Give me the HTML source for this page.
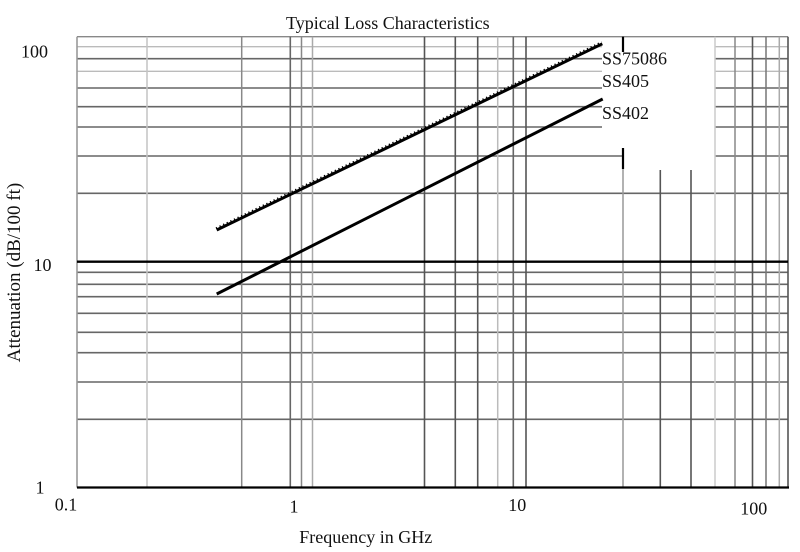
<!DOCTYPE html>
<html>
<head>
<meta charset="utf-8">
<style>
  html, body { margin: 0; padding: 0; background: #fff; }
  svg { display: block; }
  text { font-family: "Liberation Serif", "Times New Roman", serif; fill: #111; }
</style>
</head>
<body>
<svg width="800" height="552" viewBox="0 0 800 552" xmlns="http://www.w3.org/2000/svg">
  <rect x="0" y="0" width="800" height="552" fill="#fff"/>

  <!-- Horizontal grid lines -->
  <g stroke-linecap="butt">
    <line x1="77" y1="36.7" x2="788" y2="36.7" stroke="#888" stroke-width="1.3"/>
    <!-- upper lines broken by white area 602..715 -->
    <g stroke="#bbb" stroke-width="1.3">
      <line x1="77" y1="46.7" x2="602" y2="46.7"/><line x1="715" y1="46.7" x2="788" y2="46.7"/>
      <line x1="77" y1="71.3" x2="602" y2="71.3"/><line x1="715" y1="71.3" x2="788" y2="71.3"/>
    </g>
    <g stroke="#666" stroke-width="1.6">
      <line x1="77" y1="58.7" x2="602" y2="58.7"/><line x1="715" y1="58.7" x2="788" y2="58.7"/>
      <line x1="77" y1="88" x2="602" y2="88"/><line x1="715" y1="88" x2="788" y2="88"/>
      <line x1="77" y1="106.7" x2="602" y2="106.7"/><line x1="715" y1="106.7" x2="788" y2="106.7"/>
      <line x1="77" y1="127" x2="602" y2="127"/><line x1="715" y1="127" x2="788" y2="127"/>
      <line x1="77" y1="156" x2="623" y2="156"/><line x1="715" y1="156" x2="788" y2="156"/>
      <line x1="77" y1="193.3" x2="788" y2="193.3"/>
      <line x1="77" y1="272.3" x2="788" y2="272.3"/>
      <line x1="77" y1="284.3" x2="788" y2="284.3"/>
      <line x1="77" y1="296.7" x2="788" y2="296.7"/>
      <line x1="77" y1="313.3" x2="788" y2="313.3"/>
      <line x1="77" y1="332.3" x2="788" y2="332.3"/>
      <line x1="77" y1="352.7" x2="788" y2="352.7"/>
      <line x1="77" y1="382" x2="788" y2="382"/>
      <line x1="77" y1="419.3" x2="788" y2="419.3"/>
    </g>
  </g>

  <!-- Vertical grid lines -->
  <g>
    <line x1="77" y1="36.7" x2="77" y2="487.5" stroke="#999" stroke-width="1.6"/>
    <line x1="147" y1="36.7" x2="147" y2="487.5" stroke="#c4c4c4" stroke-width="1.5"/>
    <line x1="241.7" y1="36.7" x2="241.7" y2="487.5" stroke="#888" stroke-width="1.5"/>
    <line x1="290.3" y1="36.7" x2="290.3" y2="487.5" stroke="#666" stroke-width="1.6"/>
    <line x1="301.5" y1="36.7" x2="301.5" y2="487.5" stroke="#888" stroke-width="1.5"/>
    <line x1="312.5" y1="36.7" x2="312.5" y2="487.5" stroke="#aaa" stroke-width="1.5"/>
    <line x1="424.5" y1="36.7" x2="424.5" y2="487.5" stroke="#555" stroke-width="1.6"/>
    <line x1="455.3" y1="36.7" x2="455.3" y2="487.5" stroke="#555" stroke-width="1.6"/>
    <line x1="477.7" y1="36.7" x2="477.7" y2="487.5" stroke="#555" stroke-width="1.6"/>
    <line x1="497.7" y1="36.7" x2="497.7" y2="487.5" stroke="#bbb" stroke-width="1.5"/>
    <line x1="513.3" y1="36.7" x2="513.3" y2="487.5" stroke="#666" stroke-width="1.6"/>
    <line x1="526" y1="36.7" x2="526" y2="487.5" stroke="#555" stroke-width="1.6"/>
    <line x1="623" y1="168" x2="623" y2="487.5" stroke="#999" stroke-width="1.5"/>
    <line x1="623" y1="36.7" x2="623" y2="52" stroke="#000" stroke-width="2.2"/>
    <line x1="623" y1="148" x2="623" y2="169" stroke="#000" stroke-width="2.2"/>
    <line x1="660.3" y1="170" x2="660.3" y2="487.5" stroke="#555" stroke-width="1.6"/>
    <line x1="691" y1="170" x2="691" y2="487.5" stroke="#555" stroke-width="1.6"/>
    <line x1="715" y1="36.7" x2="715" y2="487.5" stroke="#ccc" stroke-width="1.5"/>
    <line x1="735" y1="36.7" x2="735" y2="487.5" stroke="#888" stroke-width="1.5"/>
    <line x1="752.5" y1="36.7" x2="752.5" y2="487.5" stroke="#555" stroke-width="1.6"/>
    <line x1="766" y1="36.7" x2="766" y2="487.5" stroke="#777" stroke-width="1.5"/>
    <line x1="779.3" y1="36.7" x2="779.3" y2="487.5" stroke="#aaa" stroke-width="1.5"/>
    <line x1="788" y1="36.7" x2="788" y2="487.5" stroke="#555" stroke-width="1.6"/>
  </g>

  <!-- Heavy black lines -->
  <line x1="77" y1="261.7" x2="788" y2="261.7" stroke="#000" stroke-width="2.3"/>
  <line x1="77" y1="487.5" x2="789" y2="487.5" stroke="#000" stroke-width="2.3"/>

  <!-- Series lines -->
  <line x1="216.7" y1="230" x2="602.3" y2="43.8" stroke="#000" stroke-width="3"/>
  <line x1="215.9" y1="228.2" x2="601.5" y2="42" stroke="#000" stroke-width="1.6" stroke-dasharray="1.3 2.7"/>
  <line x1="216.7" y1="294" x2="602.7" y2="99" stroke="#000" stroke-width="3"/>

  <!-- Labels -->
  <text x="286" y="29" font-size="18">Typical Loss Characteristics</text>
  <text x="602" y="64.5" font-size="18">SS75086</text>
  <text x="602" y="86.8" font-size="18">SS405</text>
  <text x="602" y="119.2" font-size="18">SS402</text>

  <text x="48" y="57.5" font-size="18" text-anchor="end">100</text>
  <text x="51.5" y="271" font-size="18" text-anchor="end">10</text>
  <text x="44.5" y="493.3" font-size="18" text-anchor="end">1</text>

  <text x="66" y="510.5" font-size="18" text-anchor="middle">0.1</text>
  <text x="294" y="512.7" font-size="18" text-anchor="middle">1</text>
  <text x="517.3" y="511.2" font-size="18" text-anchor="middle">10</text>
  <text x="753.7" y="514.5" font-size="18" text-anchor="middle">100</text>

  <text x="299.3" y="543" font-size="18">Frequency in GHz</text>
  <text transform="translate(20,272.5) rotate(-90)" font-size="19" text-anchor="middle">Attenuation (dB/100 ft)</text>
</svg>
</body>
</html>
